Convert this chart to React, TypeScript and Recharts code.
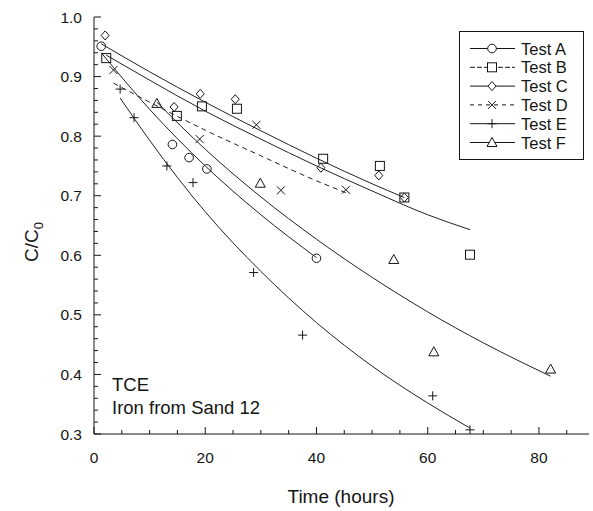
import { ComposedChart, Customized, Legend, Line, Scatter, XAxis, YAxis } from "recharts";

type Pt = { t: number; v: number };

const testA: Pt[] = [
  { t: 1.3, v: 0.951 },
  { t: 14.1, v: 0.786 },
  { t: 17.1, v: 0.764 },
  { t: 20.3, v: 0.745 },
  { t: 40.0, v: 0.595 },
];
const testB: Pt[] = [
  { t: 2.2, v: 0.931 },
  { t: 14.9, v: 0.834 },
  { t: 19.4, v: 0.85 },
  { t: 25.7, v: 0.846 },
  { t: 41.2, v: 0.762 },
  { t: 51.4, v: 0.75 },
  { t: 55.8, v: 0.697 },
  { t: 67.6, v: 0.601 },
];
const testC: Pt[] = [
  { t: 2.0, v: 0.969 },
  { t: 14.4, v: 0.849 },
  { t: 19.1, v: 0.871 },
  { t: 25.4, v: 0.862 },
  { t: 40.8, v: 0.747 },
  { t: 51.2, v: 0.734 },
  { t: 55.8, v: 0.697 },
];
const testD: Pt[] = [
  { t: 3.5, v: 0.911 },
  { t: 19.0, v: 0.795 },
  { t: 29.2, v: 0.819 },
  { t: 33.6, v: 0.709 },
  { t: 45.3, v: 0.71 },
];
const testE: Pt[] = [
  { t: 4.7, v: 0.879 },
  { t: 7.2, v: 0.831 },
  { t: 13.1, v: 0.75 },
  { t: 17.8, v: 0.722 },
  { t: 28.7, v: 0.571 },
  { t: 37.5, v: 0.466 },
  { t: 60.9, v: 0.364 },
  { t: 67.6, v: 0.307 },
];
const testF: Pt[] = [
  { t: 11.3, v: 0.855 },
  { t: 29.9, v: 0.721 },
  { t: 53.9, v: 0.593 },
  { t: 61.1, v: 0.438 },
  { t: 82.1, v: 0.409 },
];

// fitted curves
const fitA: Pt[] = [
  { t: 1.3, v: 0.94 },
  { t: 10, v: 0.845 },
  { t: 20, v: 0.75 },
  { t: 30, v: 0.668 },
  { t: 40, v: 0.596 },
];
const fitB: Pt[] = [
  { t: 2.2, v: 0.936 },
  { t: 10, v: 0.894 },
  { t: 20, v: 0.842 },
  { t: 30, v: 0.795 },
  { t: 40, v: 0.75 },
  { t: 50, v: 0.708 },
  { t: 60, v: 0.668 },
  { t: 67.6, v: 0.643 },
];
const fitC: Pt[] = [
  { t: 1.3, v: 0.955 },
  { t: 10, v: 0.908 },
  { t: 20, v: 0.857 },
  { t: 30, v: 0.809 },
  { t: 40, v: 0.763 },
  { t: 50, v: 0.72 },
  { t: 55.8, v: 0.697 },
];
const fitD: Pt[] = [
  { t: 3.5, v: 0.889 },
  { t: 10, v: 0.857 },
  { t: 20, v: 0.81 },
  { t: 30, v: 0.767 },
  { t: 40, v: 0.725 },
  { t: 45.3, v: 0.705 },
];
const fitE: Pt[] = [
  { t: 4.7, v: 0.864 },
  { t: 10, v: 0.793 },
  { t: 20, v: 0.673 },
  { t: 30, v: 0.573 },
  { t: 40, v: 0.487 },
  { t: 50, v: 0.414 },
  { t: 60, v: 0.352 },
  { t: 67.6, v: 0.31 },
];
const fitF: Pt[] = [
  { t: 11.3, v: 0.857 },
  { t: 20, v: 0.778 },
  { t: 30, v: 0.698 },
  { t: 40, v: 0.627 },
  { t: 50, v: 0.563 },
  { t: 60, v: 0.505 },
  { t: 70, v: 0.453 },
  { t: 82.1, v: 0.397 },
];

const xTicks = [0, 5, 10, 15, 20, 25, 30, 35, 40, 45, 50, 55, 60, 65, 70, 75, 80, 85];
const yTicks = [
  0.3, 0.32, 0.34, 0.36, 0.38, 0.4, 0.42, 0.44, 0.46, 0.48, 0.5, 0.52, 0.54, 0.56, 0.58, 0.6,
  0.62, 0.64, 0.66, 0.68, 0.7, 0.72, 0.74, 0.76, 0.78, 0.8, 0.82, 0.84, 0.86, 0.88, 0.9, 0.92,
  0.94, 0.96, 0.98, 1.0,
];

const ink = "#151515";
const font = '"Liberation Sans", Arial, Helvetica, sans-serif';

type Kind = "circle" | "square" | "diamond" | "cross" | "plus" | "triangle";

const legendRows: { name: string; kind: Kind; dash?: string }[] = [
  { name: "Test A", kind: "circle" },
  { name: "Test B", kind: "square", dash: "5 2" },
  { name: "Test C", kind: "diamond" },
  { name: "Test D", kind: "cross", dash: "4 4" },
  { name: "Test E", kind: "plus" },
  { name: "Test F", kind: "triangle" },
];

function Marker({ kind, cx, cy, fill = "none" }: { kind: Kind; cx: number; cy: number; fill?: string }) {
  const s = { stroke: ink, strokeWidth: 1, fill };
  if (kind === "circle") return <circle cx={cx} cy={cy} r={4.3} {...s} />;
  if (kind === "square") return <rect x={cx - 4.5} y={cy - 4.5} width={9} height={9} {...s} />;
  if (kind === "diamond")
    return <polygon points={`${cx},${cy - 4.5} ${cx + 4} ${cy} ${cx},${cy + 4.5} ${cx - 4},${cy}`} {...s} />;
  if (kind === "triangle")
    return <polygon points={`${cx},${cy - 5} ${cx + 5} ${cy + 4} ${cx - 5},${cy + 4}`} {...s} />;
  if (kind === "cross")
    return (
      <g stroke={ink} strokeWidth={1}>
        <line x1={cx - 4} y1={cy - 4} x2={cx + 4} y2={cy + 4} />
        <line x1={cx - 4} y1={cy + 4} x2={cx + 4} y2={cy - 4} />
      </g>
    );
  return (
    <g stroke={ink} strokeWidth={1}>
      <line x1={cx - 4.5} y1={cy} x2={cx + 4.5} y2={cy} />
      <line x1={cx} y1={cy - 4.5} x2={cx} y2={cy + 4.5} />
    </g>
  );
}

const shapeOf = (kind: Kind) => (p: any) => <Marker kind={kind} cx={p.cx} cy={p.cy} />;

const isMajorY = (v: number) => Math.abs(v * 10 - Math.round(v * 10)) < 1e-6;

function BottomTick({ x, y, payload }: any) {
  const major = payload.value % 20 === 0;
  return (
    <g>
      <line x1={x} x2={x} y1={y} y2={y - (major ? 7 : 4)} stroke={ink} />
      {major ? (
        <text x={x} y={y + 29} textAnchor="middle" fontSize={15.5} fontFamily={font} fill={ink}>
          {payload.value}
        </text>
      ) : null}
    </g>
  );
}

function TopTick({ x, y, payload }: any) {
  const major = payload.value % 20 === 0;
  return <line x1={x} x2={x} y1={y} y2={y + (major ? 7 : 4)} stroke={ink} />;
}

function LeftTick({ x, y, payload }: any) {
  const major = isMajorY(payload.value);
  return (
    <g>
      <line x1={x} x2={x + (major ? 7 : 4)} y1={y} y2={y} stroke={ink} />
      {major ? (
        <text x={x - 12} y={y + 5.5} textAnchor="end" fontSize={15.5} fontFamily={font} fill={ink}>
          {payload.value.toFixed(1)}
        </text>
      ) : null}
    </g>
  );
}

function RightTick({ x, y, payload }: any) {
  const major = isMajorY(payload.value);
  return <line x1={x} x2={x - (major ? 7 : 4)} y1={y} y2={y} stroke={ink} />;
}

function LegendBox() {
  return (
    <svg width={125} height={129} style={{ display: "block" }}>
      <rect x={0.5} y={0.5} width={124} height={128} fill="#fff" stroke={ink} />
      {legendRows.map((row, i) => {
        const y = 17.5 + i * 18.8;
        return (
          <g key={row.name}>
            <line x1={11} x2={56} y1={y} y2={y} stroke={ink} strokeDasharray={row.dash} />
            <Marker kind={row.kind} cx={33} cy={y} fill="#fff" />
            <text x={62} y={y + 6} fontSize={16.5} fontFamily={font} fill={ink}>
              {row.name}
            </text>
          </g>
        );
      })}
    </svg>
  );
}

function Notes() {
  return (
    <g fontFamily={font} fill={ink}>
      <text x={112} y={391} fontSize={18.5}>
        TCE
      </text>
      <text x={112} y={414} fontSize={18.5}>
        Iron from Sand 12
      </text>
      <text transform="rotate(-90)" x={-242} y={38} textAnchor="middle" fontSize={19}>
        C/C
        <tspan fontSize={13} dy={5}>
          0
        </tspan>
      </text>
      <text x={341} y={503} textAnchor="middle" fontSize={19}>
        Time (hours)
      </text>
    </g>
  );
}

const fits: { data: Pt[]; dash?: string }[] = [
  { data: fitA },
  { data: fitB },
  { data: fitC },
  { data: fitD, dash: "5 4" },
  { data: fitE },
  { data: fitF },
];

const sets: { data: Pt[]; kind: Kind }[] = [
  { data: testA, kind: "circle" },
  { data: testB, kind: "square" },
  { data: testC, kind: "diamond" },
  { data: testD, kind: "cross" },
  { data: testE, kind: "plus" },
  { data: testF, kind: "triangle" },
];

export default function App() {
  return (
    <div style={{ position: "absolute", left: 0, top: 0, width: 593, height: 511, background: "#fff" }}>
      <ComposedChart width={593} height={511} margin={{ top: 17, right: 4, bottom: 0, left: 0 }}>
        <XAxis
          xAxisId="top"
          orientation="top"
          type="number"
          dataKey="t"
          domain={[0, 89]}
          ticks={xTicks}
          interval={0}
          height={0}
          tickLine={false}
          tickSize={0}
          tickMargin={0}
          tick={<TopTick />}
          axisLine={{ stroke: ink }}
          allowDataOverflow
        />
        <XAxis
          type="number"
          dataKey="t"
          domain={[0, 89]}
          ticks={xTicks}
          interval={0}
          height={77}
          tickLine={false}
          tickSize={0}
          tickMargin={0}
          tick={<BottomTick />}
          axisLine={{ stroke: ink }}
          allowDataOverflow
        />
        <YAxis
          type="number"
          domain={[0.3, 1.0]}
          ticks={yTicks}
          interval={0}
          width={94}
          tickLine={false}
          tickSize={0}
          tickMargin={0}
          tick={<LeftTick />}
          axisLine={{ stroke: ink }}
          allowDataOverflow
        />
        <YAxis
          yAxisId="right"
          orientation="right"
          type="number"
          domain={[0.3, 1.0]}
          ticks={yTicks}
          interval={0}
          width={0}
          tickLine={false}
          tickSize={0}
          tickMargin={0}
          tick={<RightTick />}
          axisLine={{ stroke: ink }}
          allowDataOverflow
        />
        {fits.map((f, i) => (
          <Line
            key={`fit${i}`}
            data={f.data}
            dataKey="v"
            type="monotone"
            stroke="#222"
            strokeWidth={1}
            strokeDasharray={f.dash}
            dot={false}
            activeDot={false}
            legendType="none"
            isAnimationActive={false}
          />
        ))}
        {sets.map((s, i) => (
          <Scatter
            key={`set${i}`}
            data={s.data}
            dataKey="v"
            shape={shapeOf(s.kind)}
            legendType="none"
            isAnimationActive={false}
          />
        ))}
        <Customized component={Notes} />
        <Legend
          layout="vertical"
          align="center"
          verticalAlign="middle"
          content={LegendBox}
          wrapperStyle={{ position: "absolute", left: 459, top: 31, width: 125, height: 129, margin: 0, padding: 0 }}
        />
      </ComposedChart>
    </div>
  );
}
